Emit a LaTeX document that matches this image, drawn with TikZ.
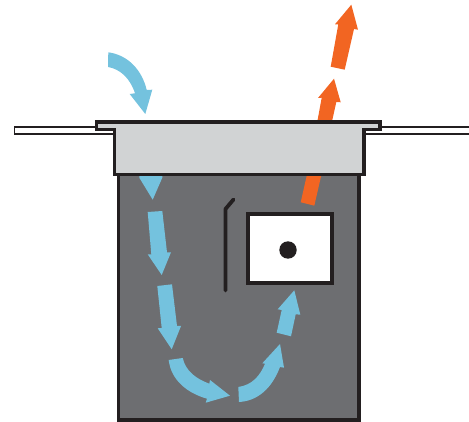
\documentclass[tikz,border=0pt]{standalone}
\definecolor{flowblue}{HTML}{74C2DE}
\definecolor{floworange}{HTML}{F26522}
\definecolor{boxgray}{HTML}{6D6E71}
\definecolor{lidgray}{HTML}{D1D3D4}
\definecolor{ink}{HTML}{231F20}
\tikzset{
  blueflow/.style={fill=flowblue,draw=none},
  orangeflow/.style={fill=floworange,draw=none},
  outline/.style={draw=ink,line width=3.2pt,line join=miter},
  wing/.style={draw=ink,line width=1.8pt,fill=white},
}
\begin{document}
\begin{tikzpicture}[x=1pt,y=-1pt]
\useasboundingbox (0,0) rectangle (469,422);
% wings
\draw[wing] (114,127) -- (14.5,127) -- (14.5,134) -- (114,134);
\draw[wing] (364,127) -- (472,127) -- (472,134) -- (364,134) -- cycle;
% container
\fill[boxgray,outline] (118.5,170) rectangle (359,420);
% orange out-flow
\fill[orangeflow] (351.3,4.7) -- (358,29.7) -- (354,29) -- (344.7,69.7) -- (330.7,66.7) -- (338.3,24.3) -- (335,24.3) -- cycle;
\fill[orangeflow] (334,78.7) -- (340.7,102.3) -- (336.3,102) -- (331,126) -- (316.5,126) -- (321.7,97.7) -- (318,98) -- cycle;
\fill[orangeflow] (308,170) -- (322.5,170) -- (314.3,205.7) -- (300.7,202.3) -- cycle;
% blue flow
\fill[blueflow] (108.3,52.3) .. controls (128,55) and (142,70) .. (146.7,90) -- (152.3,89.7) -- (145.3,114) -- (129.7,94) -- (135,93.3) .. controls (130,78) and (120,69) .. (108,67) -- cycle;
\fill[blueflow] (139.3,170) -- (162.3,170) -- (162.3,177.7) -- (152.7,199.7) -- (139.3,177.7) -- cycle;
\fill[blueflow] (147.7,212) -- (162.3,211) -- (167,252.3) -- (171,252.3) -- (161.7,275) -- (147.7,254.3) -- (151.3,254.3) -- cycle;
\fill[blueflow] (157.3,286) -- (172,284.3) -- (177,326) -- (181,326) -- (171.7,349.3) -- (157.7,328.3) -- (161.7,328) -- cycle;
\fill[blueflow] (168.7,360) -- (182.7,358) .. controls (186,372) and (197,379) .. (209.3,383.7) -- (210,380) -- (230,395.7) -- (205.7,402.7) -- (207,398.7) .. controls (187,393) and (171,380) .. (168.7,360) -- cycle;
\fill[blueflow] (239,402) -- (238.3,387) .. controls (252,385) and (260,376) .. (265,363.7) -- (262.3,363.3) -- (280,344) -- (284,367.7) -- (280,367) .. controls (272,388) and (258,401) .. (239,402) -- cycle;
\fill[blueflow] (276.7,332.7) -- (291,336.3) -- (295.7,314.3) -- (300.3,314.7) -- (294.3,290.3) -- (277.7,309.3) -- (281.7,310) -- cycle;
% lid
\fill[lidgray,outline] (96.7,122) -- (380,122) -- (380,129.3) -- (364,129.3) -- (364,174.7) -- (114.5,174.7) -- (114.5,129.3) -- (96.7,129.3) -- cycle;
% lever
\draw[ink,line width=3.8pt,line cap=round,line join=round] (225.5,290.5) -- (225.5,209) -- (233.5,199.5);
% white box and dot
\fill[white,draw=ink,line width=4pt] (247.7,213.7) rectangle (331.7,282.7);
\fill[ink] (288,250) circle (8.7);
\end{tikzpicture}
\end{document}
